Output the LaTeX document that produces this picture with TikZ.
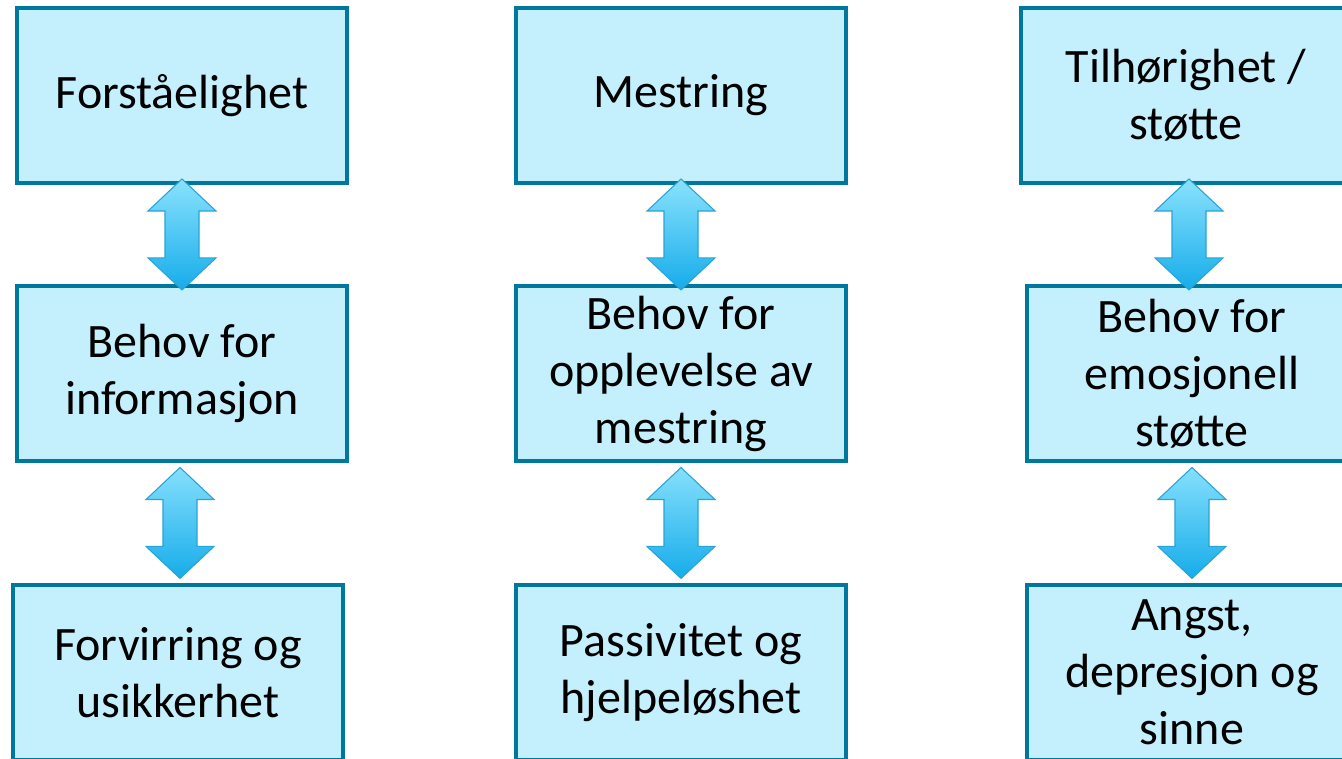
\documentclass[tikz,border=0pt]{standalone}
\usepackage{fontspec}
\setmainfont{Carlito}
\usetikzlibrary{positioning,
                calc}
\definecolor{boxfill}{HTML}{C4EFFD}
\definecolor{boxline}{HTML}{00789E}
\definecolor{arrowtop}{HTML}{8AE2FD}
\definecolor{arrowbot}{HTML}{16ACEA}
\definecolor{arrowline}{HTML}{2AA3D6}
\tikzset{
	twoway/.style={
			to path={let \p1=($(\tikztostart)!0.5!(\tikztotarget)$) in
					(\x1,\y1+41.6pt) -- (\x1+25.5pt,\y1+17.6pt) -- (\x1+12.75pt,\y1+17.6pt)
					-- (\x1+12.75pt,\y1-17.6pt) -- (\x1+25.5pt,\y1-17.6pt) -- (\x1,\y1-41.6pt)
					-- (\x1-25.5pt,\y1-17.6pt) -- (\x1-12.75pt,\y1-17.6pt)
					-- (\x1-12.75pt,\y1+17.6pt) -- (\x1-25.5pt,\y1+17.6pt) -- cycle}
		}
}

\begin{document}
\begin{tikzpicture}[
every edge/.style = {twoway, draw=arrowline, line width=0.8pt,
                     top color=arrowtop, bottom color=arrowbot},
       box/.style = {draw=boxline, line width=3pt, fill=boxfill,
                     minimum width=247.5pt, minimum height=131.25pt,
                     inner sep=0pt, align=center,
                     font=\fontsize{36}{42.75}\selectfont},
node distance = 74.25pt and 123.75pt
                    ]
\useasboundingbox (0,0) rectangle (1006.5pt,-568.5pt);

\node[box] (forst) at (136.5pt,-71.6pt) {Forståelighet};
\node[box, right=of forst]              (mestr) {Mestring};
\node[box, right=128.25pt of mestr]     (tilh)  {Tilhørighet /\\ støtte};
\node[box, below=of forst]              (info)  {Behov for\\ informasjon};
\node[box, below=of mestr]              (opplev) {Behov for\\ opplevelse av\\ mestring};
\node[box, below=of tilh, xshift=4.5pt] (emo)   {Behov for\\ emosjonell\\ støtte};
\node[box, below=90pt of info, xshift=-3pt] (forv) {Forvirring og\\ usikkerhet};
\node[box, below=90pt of opplev]        (passiv) {Passivitet og\\ hjelpeløshet};
\node[box, below=90pt of emo]           (angst) {Angst,\\ depresjon og\\ sinne};

\path   (forst.south)  edge (info.north)
        (info.south)   edge (forv.north)
        (mestr.south)  edge (opplev.north)
        (opplev.south) edge (passiv.north)
        (tilh.south)   edge (emo.north)
        (emo.south)    edge (angst.north);
\end{tikzpicture}
\end{document}
